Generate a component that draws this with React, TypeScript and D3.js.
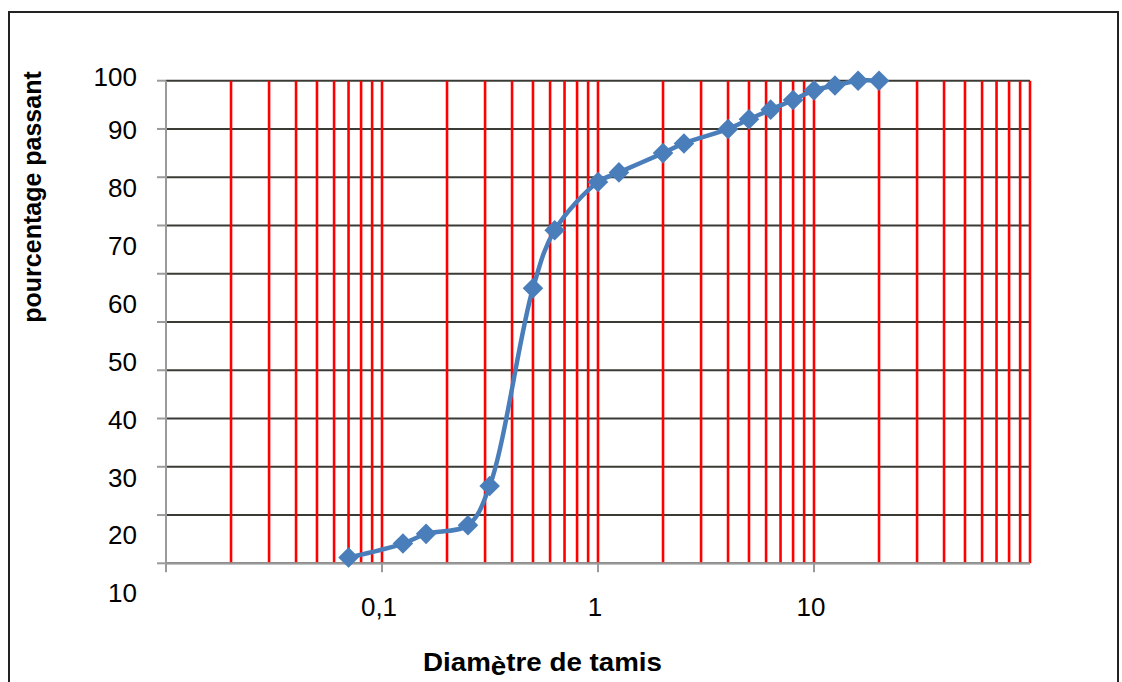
import React from "react";
import * as d3 from "d3";

// Sieve diameters (mm) and percentage passing
const diameters = [0.07, 0.125, 0.16, 0.25, 0.315, 0.5, 0.63, 1, 1.25, 2, 2.5, 4, 5, 6.3, 8, 10, 12.5, 16, 20];
const passing = [1.2, 4.1, 6.1, 7.9, 16, 57, 69, 79, 81, 85, 87, 90, 92, 94, 96, 98, 99, 100, 100];

const xTickValues = [0.1, 1, 10];
const xTickLabels = ["0,1", "1", "10"];
const yGridValues = [0, 10, 20, 30, 40, 50, 60, 70, 80, 90, 100];
const yTickLabels = ["100", "90", "80", "70", "60", "50", "40", "30", "20", "10"];
const yLabelValues = [100, 90, 80, 70, 60, 50, 40, 30, 20, 10];

const xTitleParts = ["Diam", "è", "tre de tamis"];
const yTitle = "pourcentage passant";

const W = 1122;
const H = 682;
const left = 166;
const right = 1030;
const top = 80.7;
const bottom = 563.3;

export default function App() {
  const x = d3.scaleLog().domain([0.01, 100]).range([left, right]);
  const y = d3.scaleLinear().domain([0, 100]).range([bottom, top]);
  // tick labels are spaced differently from gridlines in the original
  const yLab = d3.scaleLinear().domain([10, 90, 100]).range([593, 130, 77]);

  const redLines: number[] = [];
  for (let k = -2; k <= 1; k++) {
    for (let m = 2; m <= 10; m++) {
      redLines.push(m * Math.pow(10, k));
    }
  }

  const line = d3
    .line<number>()
    .x((_, i) => x(diameters[i]))
    .y((d) => y(d))
    .curve(d3.curveCatmullRom.alpha(0.5));

  const diamond = d3.symbol().type(d3.symbolDiamond2).size(270)();
  const font = "'Liberation Sans', Arial, sans-serif";

  return (
    <svg
      width={W}
      height={H}
      style={{ position: "absolute", left: 0, top: 0, background: "#fff" }}
      fontFamily={font}
    >
      <rect x={9} y={12} width={1109} height={700} fill="#fff" stroke="#222" strokeWidth={2} />

      {yGridValues.map((v) => (
        <line key={"h" + v} x1={left} x2={right} y1={y(v)} y2={y(v)} stroke="#3b3b36" strokeWidth={2} />
      ))}
      {yGridValues.map((v) => (
        <line key={"yt" + v} x1={157} x2={left} y1={y(v)} y2={y(v)} stroke="#9a9a9a" strokeWidth={2} />
      ))}

      {redLines.map((v, i) => (
        <line key={"r" + i} x1={x(v)} x2={x(v)} y1={top} y2={bottom} stroke="#ff0000" strokeWidth={2.6} />
      ))}

      <line x1={left} x2={left} y1={top} y2={bottom + 9} stroke="#9a9a9a" strokeWidth={2} />
      <line x1={left} x2={right} y1={bottom} y2={bottom} stroke="#9a9a9a" strokeWidth={2} />
      {xTickValues.map((v) => (
        <line key={"xt" + v} x1={x(v)} x2={x(v)} y1={bottom} y2={bottom + 9} stroke="#9a9a9a" strokeWidth={2} />
      ))}

      {yLabelValues.map((v, i) => (
        <text key={"yl" + v} x={137} y={yLab(v)} dy="0.36em" textAnchor="end" fontSize={26} fill="#000">
          {yTickLabels[i]}
        </text>
      ))}

      {xTickValues.map((v, i) => (
        <text key={"xl" + v} x={x(v) - 3} y={607} dy="0.36em" textAnchor="middle" fontSize={26} fill="#000">
          {xTickLabels[i]}
        </text>
      ))}

      <path d={line(passing) || ""} fill="none" stroke="#4a7ebb" strokeWidth={4.5} strokeLinejoin="round" />
      {passing.map((v, i) => (
        <path key={"m" + i} d={diamond || ""} transform={`translate(${x(diameters[i])},${y(v)})`} fill="#4a7ebb" />
      ))}

      <text
        x={423}
        y={662}
        dy="0.36em"
        textAnchor="start"
        fontSize={25}
        fontWeight="bold"
        fill="#000"
        textLength={239}
        lengthAdjust="spacingAndGlyphs"
      >
        <tspan>{xTitleParts[0]}</tspan>
        <tspan dy={4}>{xTitleParts[1]}</tspan>
        <tspan dy={-4}>{xTitleParts[2]}</tspan>
      </text>
      <text
        transform={`translate(32,197) rotate(-90)`}
        dy="0.36em"
        textAnchor="middle"
        fontSize={25}
        fontWeight="bold"
        fill="#000"
      >
        {yTitle}
      </text>
    </svg>
  );
}
